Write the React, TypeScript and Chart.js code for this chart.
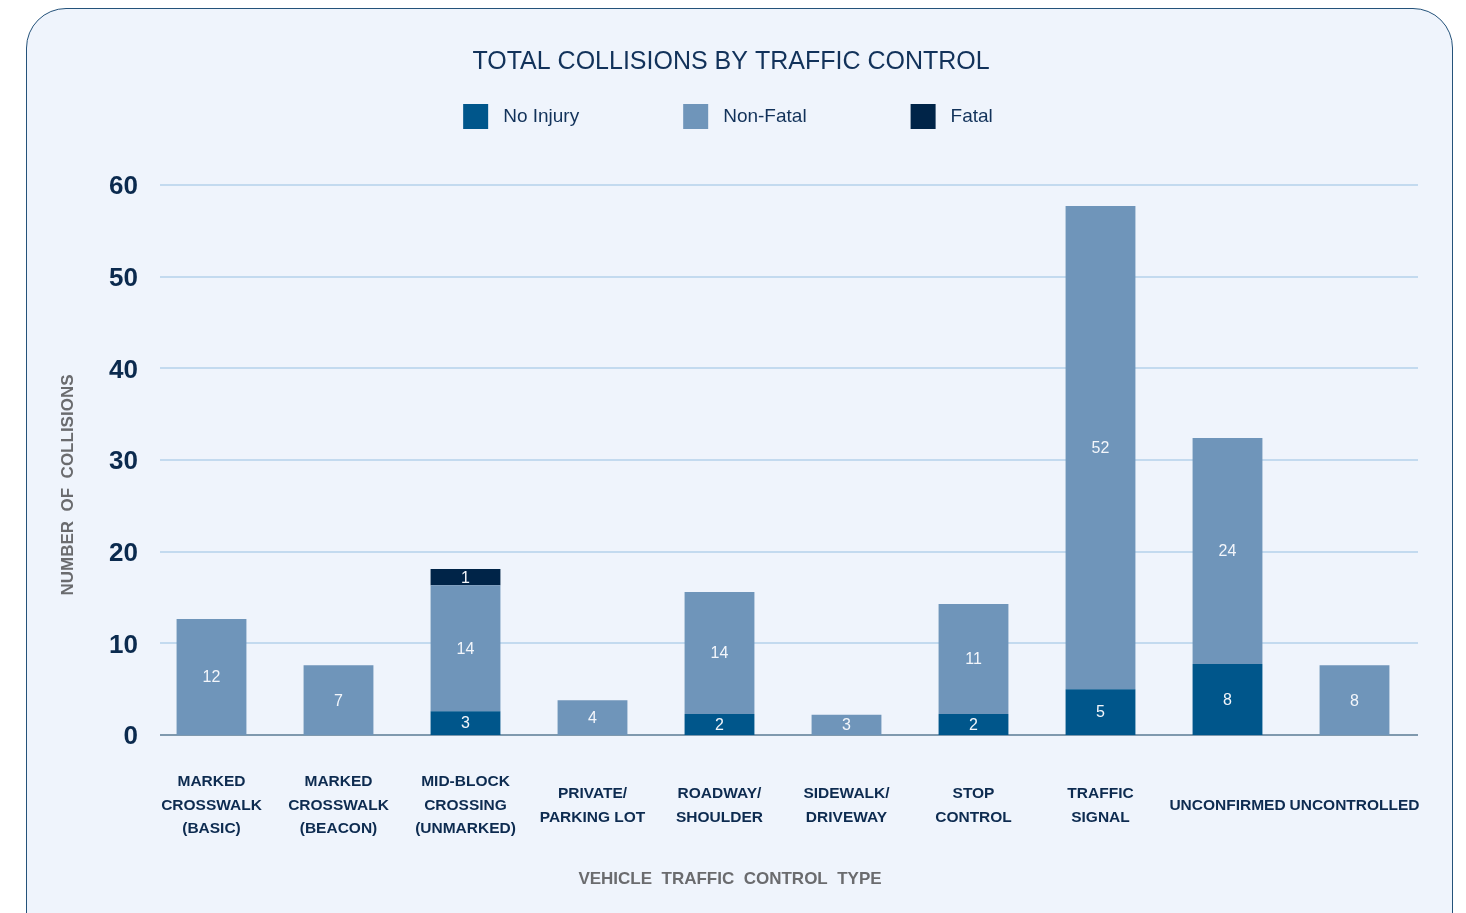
import { useEffect, useRef } from "react";
import { Chart, registerables } from "chart.js";
Chart.register(...registerables);

const FONT = '"Liberation Sans", Arial, Helvetica, sans-serif';

const categories: (string | string[])[] = [
  ["MARKED", "CROSSWALK", "(BASIC)"],
  ["MARKED", "CROSSWALK", "(BEACON)"],
  ["MID-BLOCK", "CROSSING", "(UNMARKED)"],
  ["PRIVATE/", "PARKING LOT"],
  ["ROADWAY/", "SHOULDER"],
  ["SIDEWALK/", "DRIVEWAY"],
  ["STOP", "CONTROL"],
  ["TRAFFIC", "SIGNAL"],
  "UNCONFIRMED",
  "UNCONTROLLED",
];

// bar heights as drawn in the picture
const noInjury = [0, 0, 2.6, 0, 2.3, 0, 2.3, 5.0, 7.75, 0];
const nonFatal = [12.65, 7.6, 13.75, 3.8, 13.3, 2.2, 12.0, 52.7, 24.65, 7.6];
const fatal = [0, 0, 1.75, 0, 0, 0, 0, 0, 0, 0];

// value labels printed inside the segments
const noInjuryLabels = ["", "", "3", "", "2", "", "2", "5", "8", ""];
const nonFatalLabels = ["12", "7", "14", "4", "14", "3", "11", "52", "24", "8"];
const fatalLabels = ["", "", "1", "", "", "", "", "", "", ""];

const yTicks = [0, 10, 20, 30, 40, 50, 60];

const seriesNames = ["No Injury", "Non-Fatal", "Fatal"];
const seriesColors = ["#00568b", "#6f95ba", "#002448"];

const chartTitle = "TOTAL COLLISIONS BY TRAFFIC CONTROL";
const xTitle = "VEHICLE  TRAFFIC  CONTROL  TYPE";
const yTitle = "NUMBER  OF  COLLISIONS";

const segLabelSets = [noInjuryLabels, nonFatalLabels, fatalLabels];

const gridPlugin = {
  id: "customGrid",
  beforeDatasetsDraw(chart: any) {
    const { ctx, chartArea, scales } = chart;
    const y = scales.y;
    ctx.save();
    yTicks.forEach((v) => {
      const py = Math.round(y.getPixelForValue(v));
      ctx.strokeStyle = v === 0 ? "#7f99ae" : "#c3daef";
      ctx.lineWidth = 2;
      ctx.beginPath();
      ctx.moveTo(chartArea.left + 12, py);
      ctx.lineTo(chartArea.right, py);
      ctx.stroke();
    });
    ctx.restore();
  },
};

const labelPlugin = {
  id: "segLabels",
  afterDatasetsDraw(chart: any) {
    const ctx = chart.ctx;
    ctx.save();
    ctx.font = `16px ${FONT}`;
    ctx.fillStyle = "#f3f6fb";
    ctx.textAlign = "center";
    ctx.textBaseline = "middle";
    segLabelSets.forEach((labels, di) => {
      const meta = chart.getDatasetMeta(di);
      meta.data.forEach((el: any, i: number) => {
        const t = labels[i];
        if (!t) return;
        const { x, y, base } = el.getProps(["x", "y", "base"], true);
        ctx.fillText(t, x, (y + base) / 2 + 1);
      });
    });
    ctx.restore();
  },
};

const decorPlugin = {
  id: "decor",
  afterDraw(chart: any) {
    const { ctx, width } = chart;
    ctx.save();
    // title
    ctx.fillStyle = "#12325a";
    ctx.font = `25px ${FONT}`;
    ctx.textAlign = "center";
    ctx.textBaseline = "middle";
    ctx.fillText(chartTitle, 723, 54);
    // legend
    ctx.font = `19px ${FONT}`;
    const box = 25;
    const textGap = 15;
    const itemGap = 104;
    const widths = seriesNames.map((n) => box + textGap + ctx.measureText(n).width);
    const total = widths.reduce((a, b) => a + b, 0) + itemGap * (seriesNames.length - 1);
    let x = width / 2 - 5 - total / 2;
    const top = 96;
    ctx.textAlign = "left";
    seriesNames.forEach((n, i) => {
      ctx.fillStyle = seriesColors[i];
      ctx.fillRect(x, top, box, box);
      ctx.fillStyle = "#12325a";
      ctx.fillText(n, x + box + textGap, top + box / 2);
      x += widths[i] + itemGap;
    });
    // axis titles
    ctx.fillStyle = "#6a6b6e";
    ctx.font = `bold 17px ${FONT}`;
    ctx.textAlign = "center";
    ctx.fillText(xTitle, 722, 871);
    ctx.translate(60, 477);
    ctx.rotate(-Math.PI / 2);
    ctx.fillText(yTitle, 0, 0);
    ctx.restore();
  },
};

export default function App() {
  const ref = useRef<HTMLCanvasElement | null>(null);
  useEffect(() => {
    document.documentElement.style.overflow = "hidden";
    document.body.style.overflow = "hidden";
    if (!ref.current) return;
    const chart = new Chart(ref.current, {
      type: "bar",
      data: {
        labels: categories as any,
        datasets: [
          { label: seriesNames[0], data: noInjury, backgroundColor: seriesColors[0] },
          { label: seriesNames[1], data: nonFatal, backgroundColor: seriesColors[1] },
          { label: seriesNames[2], data: fatal, backgroundColor: seriesColors[2] },
        ],
      },
      options: {
        responsive: false,
        animation: false,
        events: [],
        layout: { padding: { left: 0, right: 40, top: 177, bottom: 58 } },
        datasets: { bar: { barPercentage: 0.55, categoryPercentage: 1 } } as any,
        plugins: {
          legend: { display: false },
          tooltip: { enabled: false },
          title: { display: false },
        },
        scales: {
          x: {
            stacked: true,
            grid: { display: false, drawTicks: false },
            border: { display: false },
            ticks: {
              color: "#0d2b50",
              font: { family: FONT, size: 15.5, weight: "bold" as any, lineHeight: 1.52 },
              padding: 47,
              crossAlign: "center",
              maxRotation: 0,
              minRotation: 0,
              autoSkip: false,
            },
            afterFit: (s: any) => {
              s.height = 120;
              s.paddingLeft = 0;
              s.paddingRight = 0;
            },
          },
          y: {
            stacked: true,
            min: 0,
            max: 60,
            grid: { display: false, drawTicks: false },
            border: { display: false },
            afterBuildTicks: (s: any) => {
              s.ticks = yTicks.map((v) => ({ value: v }));
            },
            ticks: {
              color: "#0b2a4e",
              font: { family: FONT, size: 26, weight: "bold" as any },
              padding: 10,
              labelOffset: 2,
            },
            afterFit: (s: any) => {
              s.width = 140;
              s.paddingTop = 0;
              s.paddingBottom = 0;
            },
          },
        },
      },
      plugins: [gridPlugin, labelPlugin, decorPlugin],
    });
    return () => chart.destroy();
  }, []);

  return (
    <div style={{ position: "relative", width: 1450, height: 905, overflow: "hidden" }}>
      <div
        style={{
          position: "absolute",
          left: 18,
          top: 0,
          width: 1427,
          height: 960,
          boxSizing: "border-box",
          border: "1.5px solid #24527a",
          borderRadius: 40,
          background: "#eff4fc",
        }}
      />
      <canvas
        ref={ref}
        width={1450}
        height={905}
        style={{ position: "absolute", left: 0, top: 0, width: 1450, height: 905 }}
      />
    </div>
  );
}
